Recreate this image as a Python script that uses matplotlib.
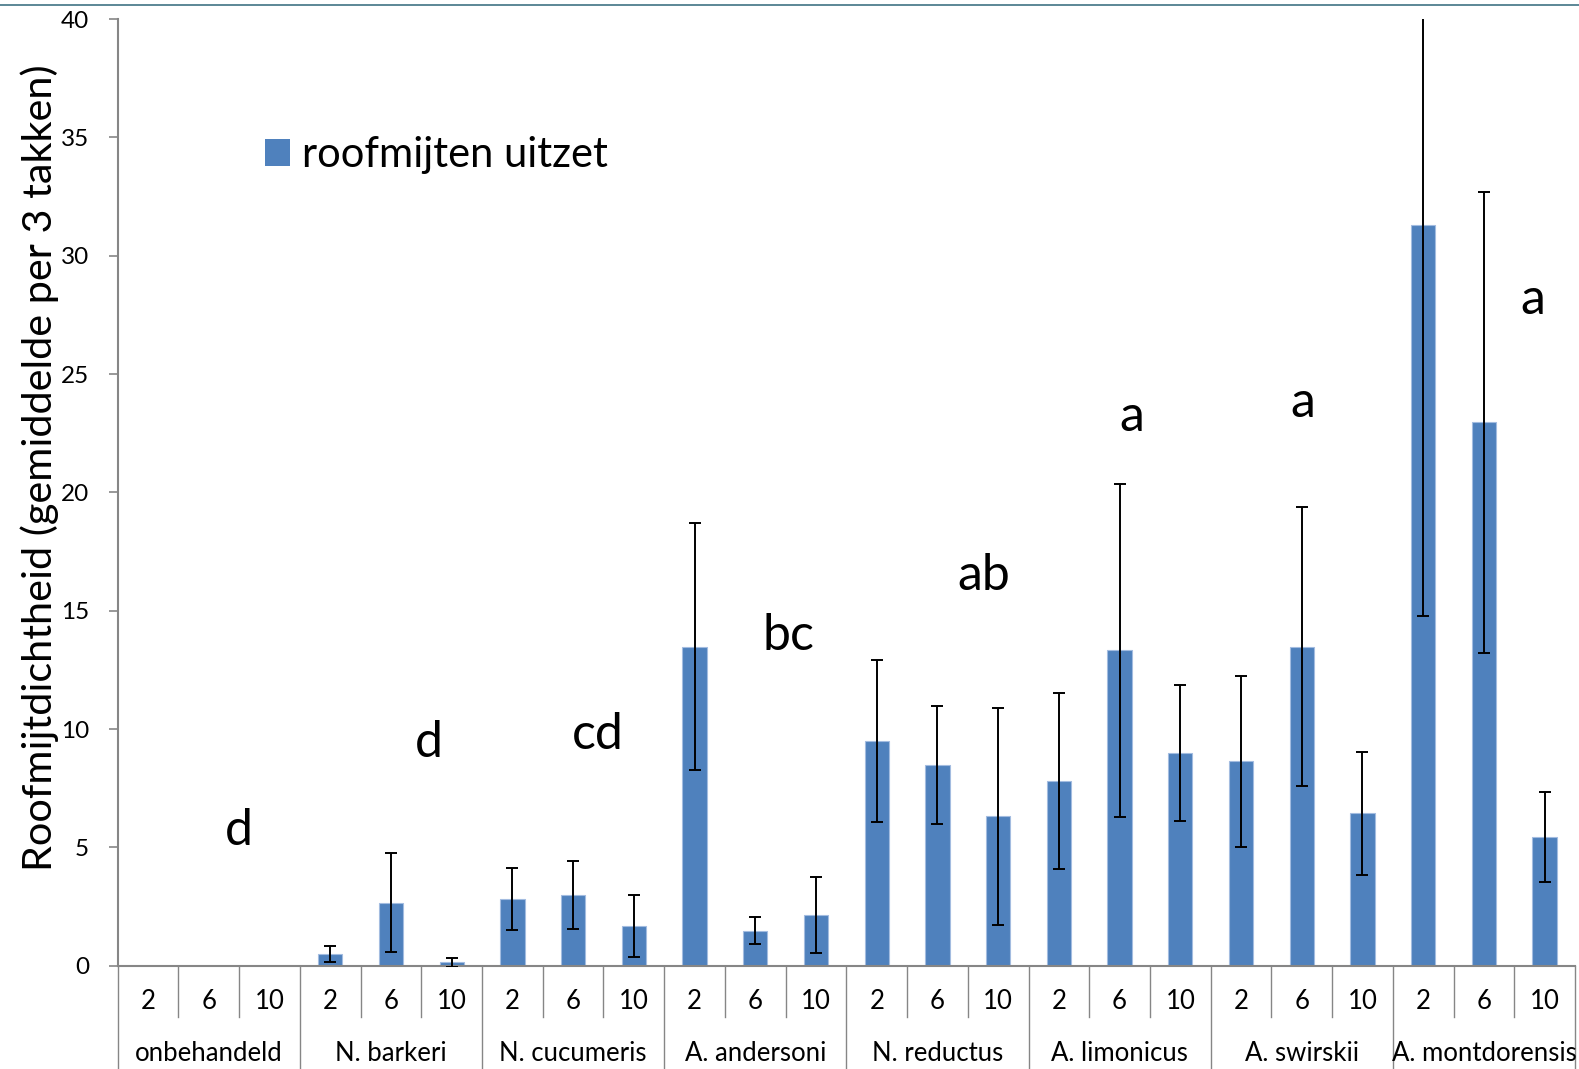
import matplotlib
matplotlib.use('Agg')
import matplotlib.pyplot as plt
import matplotlib.transforms as mtransforms
from matplotlib.lines import Line2D
from matplotlib.patches import Patch
import numpy as np

plt.rcParams['font.family'] = ['Lato', 'DejaVu Sans']

# ---- data ----
groups = ["onbehandeld", "N. barkeri", "N. cucumeris", "A. andersoni",
          "N. reductus", "A. limonicus", "A. swirskii", "A. montdorensis"]
weeks = ["2", "6", "10"]

mean_onbehandeld = [0.0, 0.0, 0.0]
mean_barkeri = [0.49, 2.66, 0.14]
mean_cucumeris = [2.82, 2.99, 1.66]
mean_andersoni = [13.48, 1.48, 2.14]
mean_reductus = [9.48, 8.49, 6.31]
mean_limonicus = [7.80, 13.32, 8.97]
mean_swirskii = [8.63, 13.48, 6.45]
mean_montdorensis = [31.30, 22.96, 5.43]

err_onbehandeld = [0.0, 0.0, 0.0]
err_barkeri = [0.35, 2.09, 0.20]
err_cucumeris = [1.31, 1.43, 1.31]
err_andersoni = [5.22, 0.57, 1.60]
err_reductus = [3.42, 2.49, 4.58]
err_limonicus = [3.73, 7.02, 2.87]
err_swirskii = [3.63, 5.88, 2.60]
err_montdorensis = [16.53, 9.75, 1.90]

sig_letters = ["d", "d", "cd", "bc", "ab", "a", "a", "a"]
letter_x = [1.5, 4.63, 7.40, 10.54, 13.77, 16.20, 19.01, 22.8]
letter_y = [5.10, 8.82, 9.16, 13.34, 15.87, 22.6, 23.19, 27.53]

means = np.array(mean_onbehandeld + mean_barkeri + mean_cucumeris + mean_andersoni +
                 mean_reductus + mean_limonicus + mean_swirskii + mean_montdorensis)
errs = np.array(err_onbehandeld + err_barkeri + err_cucumeris + err_andersoni +
                err_reductus + err_limonicus + err_swirskii + err_montdorensis)

# ---- figure ----
W, H = 1579, 1069
fig = plt.figure(figsize=(W / 100, H / 100), dpi=100)
ax = fig.add_axes([117.7 / W, (H - 965.7) / H, (1575 - 117.7) / W, 946.7 / H])

x = np.arange(len(means))
BLUE = '#4f81bd'
GRAY = '#868686'
ax.bar(x, means, width=0.4, color=BLUE, edgecolor='#a3bce0', linewidth=0.8, zorder=2)
mask = errs > 0
ax.errorbar(x[mask], means[mask], yerr=errs[mask], fmt='none', ecolor='black',
            elinewidth=1.4, capsize=4, capthick=1.4, zorder=3)

ax.set_xlim(-0.5, len(means) - 0.5)
ax.set_ylim(0, 40)
ax.set_yticks(range(0, 41, 5))
ax.tick_params(axis='y', direction='out', length=6.5, width=1.2, color=GRAY,
               labelsize=17.5, pad=14)
ax.set_xticks([])
for s in ['top', 'right']:
    ax.spines[s].set_visible(False)
for s in ['left', 'bottom']:
    ax.spines[s].set_color(GRAY)
    ax.spines[s].set_linewidth(1.5)

trans = mtransforms.blended_transform_factory(ax.transData, ax.transAxes)
minor_len = (1017 - 965.7) / 946.7
major_len = (1070 - 965.7) / 946.7
for k in range(len(means) + 1):
    b = k - 0.5
    L = major_len if k % 3 == 0 else minor_len
    ax.add_line(Line2D([b, b], [0, -L], transform=trans, clip_on=False,
                       color=GRAY, lw=1.0))

for i in range(len(means)):
    ax.text(i, -0.0461, weeks[i % 3], transform=trans, ha='center',
            va='baseline', fontsize=18.5)
for g, name in enumerate(groups):
    ax.text(3 * g + 1, -0.1007, name, transform=trans, ha='center',
            va='baseline', fontsize=18.5)

for s, lx, ly in zip(sig_letters, letter_x, letter_y):
    ax.text(lx, ly, s, ha='center', va='baseline', fontsize=36)

fig.text(40 / W, 1 - 468 / H, "Roofmijtdichtheid (gemiddelde per 3 takken)",
         rotation=90, ha='center', va='center', fontsize=29.8)

ax.legend([Patch(facecolor=BLUE)], ['roofmijten uitzet'], loc='center left',
          bbox_to_anchor=(265 / W, 1 - 155 / H), bbox_transform=fig.transFigure,
          frameon=False, fontsize=30, handlelength=0.6, handleheight=0.6,
          handletextpad=0.28, borderpad=0, borderaxespad=0)

fig.add_artist(Line2D([0, 1], [1 - 5 / H, 1 - 5 / H], transform=fig.transFigure,
                      color='#3f7384', lw=1.2))

fig.savefig('out.png', dpi=100)
